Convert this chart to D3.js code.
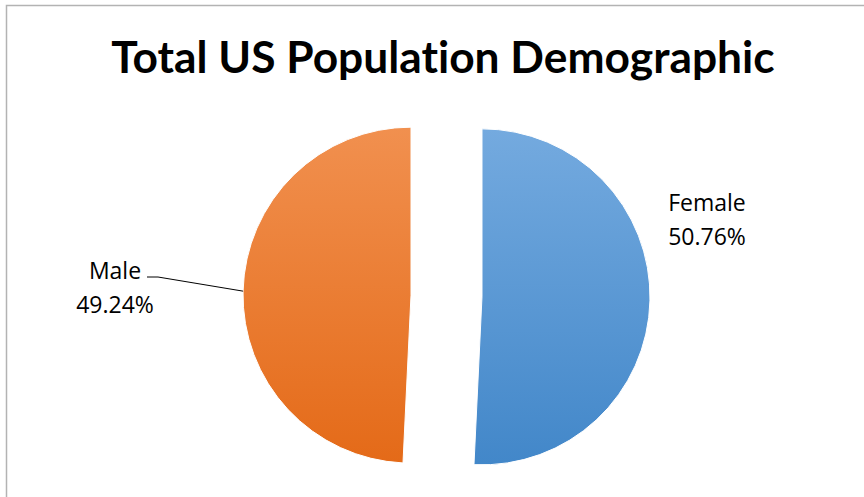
<!DOCTYPE html>
<html>
<head>
<meta charset="utf-8">
<script src="https://cdn.jsdelivr.net/npm/d3@7"></script>
<style>
  html, body { margin: 0; padding: 0; background: #fff; }
  svg { display: block; }
  text { font-variant-ligatures: none; }
</style>
</head>
<body>
<div id="chart"></div>
<script>
// Chart data
const categories = ['Female', 'Male'];
const shares = [50.76, 49.24];
const labelText = ['50.76%', '49.24%'];
const title = 'Total US Population Demographic';

const width = 864, height = 497;
const cx = 446.5, cy = 296, radius = 168, explode = 35.5;

const svg = d3.select('#chart')
  .append('svg')
  .attr('width', width)
  .attr('height', height);

// gradients for each slice (in slice-local coordinates)
const defs = svg.append('defs');
const gradColors = [['#74aadf', '#4287c9'], ['#f1904f', '#e46a18']];
categories.forEach((c, i) => {
  const g = defs.append('linearGradient')
    .attr('id', 'grad' + i)
    .attr('gradientUnits', 'userSpaceOnUse')
    .attr('x1', 0).attr('y1', -radius)
    .attr('x2', 0).attr('y2', radius);
  g.append('stop').attr('offset', '0%').attr('stop-color', gradColors[i][0]);
  g.append('stop').attr('offset', '100%').attr('stop-color', gradColors[i][1]);
});

// frame (left and top edges only visible)
svg.append('path')
  .attr('d', `M6.5,${height} V5.5 H${width}`)
  .attr('fill', 'none')
  .attr('stroke', '#b3b3b3')
  .attr('stroke-width', 1.5);

svg.append('text')
  .attr('x', 443)
  .attr('y', 73)
  .attr('text-anchor', 'middle')
  .attr('font-family', 'Lato, "Open Sans", sans-serif')
  .attr('font-weight', 'bold')
  .attr('font-size', 44.3)
  .attr('fill', '#000')
  .text(title);

const pie = d3.pie().sort(null).value(d => d);
const arcs = pie(shares);
const arc = d3.arc().innerRadius(0).outerRadius(radius);

const centers = arcs.map(a => {
  const mid = (a.startAngle + a.endAngle) / 2;
  return [cx + Math.sin(mid) * explode, cy - Math.cos(mid) * explode, mid];
});

const slices = svg.append('g');
arcs.forEach((a, i) => {
  slices.append('path')
    .attr('transform', `translate(${centers[i][0]},${centers[i][1]})`)
    .attr('d', arc(a))
    .attr('fill', `url(#grad${i})`)
    .attr('stroke', '#fff')
    .attr('stroke-width', 1);
});

// labels
const fontLabel = '"Open Sans", sans-serif';
function label(x, y, lines, anchor) {
  const t = svg.append('text')
    .attr('font-family', fontLabel)
    .attr('font-size', 23)
    .attr('fill', '#000')
    .attr('text-anchor', anchor);
  lines.forEach((l, k) => {
    t.append('tspan').attr('x', x).attr('y', y + k * 34).text(l);
  });
}
label(707, 211, [categories[0], labelText[0]], 'middle');
label(115, 279, [categories[1], labelText[1]], 'middle');

// leader line for Male, ending on the slice edge at its mid angle
const [mx, my, mMid] = centers[1];
const ex = mx + Math.sin(mMid) * radius;
const ey = my - Math.cos(mMid) * radius;
svg.append('polyline')
  .attr('points', `147,277 158,277 ${ex},${ey}`)
  .attr('fill', 'none')
  .attr('stroke', '#000')
  .attr('stroke-width', 1);
</script>
</body>
</html>
